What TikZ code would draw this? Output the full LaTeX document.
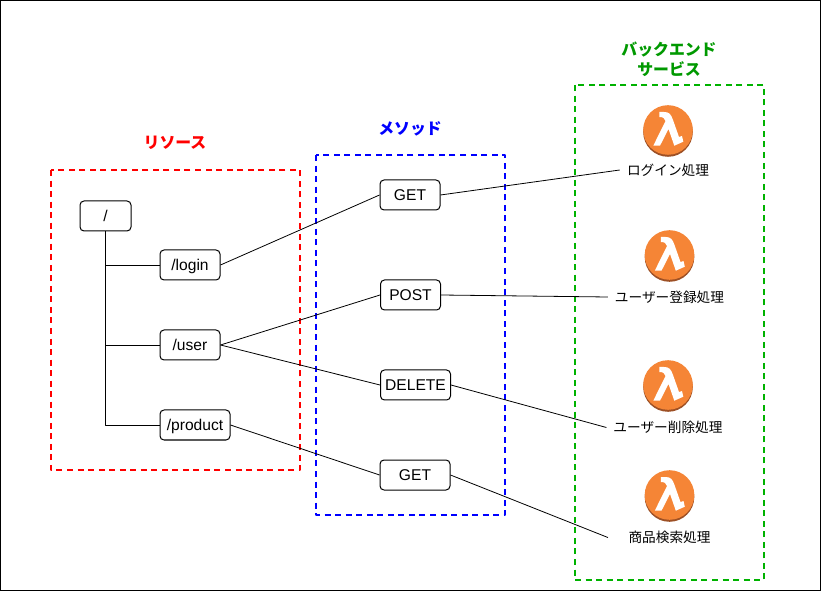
\documentclass[tikz,border=0pt]{standalone}
\usepackage{fontspec}
\setmainfont{Liberation Sans}
\newfontfamily\jp{Noto Sans CJK JP}
\definecolor{lamorange}{HTML}{F58536}
\definecolor{lamdark}{HTML}{9D5025}
\definecolor{grp}{HTML}{009900}
\begin{document}
\begin{tikzpicture}[x=0.75pt,y=-0.75pt,line join=round,
  rbox/.style={draw=black,fill=white,rounded corners=3pt,line width=0.75pt,minimum height=22.5pt,inner sep=0pt,text height=8.3pt,text depth=0pt,font=\fontsize{11.7pt}{13pt}\selectfont,anchor=center},
  wire/.style={draw=black,line width=0.6pt},
  group/.style={line width=1.5pt,dash pattern=on 4.5pt off 3.4pt},
  gtitle/.style={font=\jp\bfseries\fontsize{11.9pt}{15pt}\selectfont,align=center,inner sep=0pt},
  fn/.style={font=\jp\fontsize{10.25pt}{12pt}\selectfont,inner sep=3.5pt,text=black}]
\useasboundingbox (0,0) rectangle (821,591);
\fill[white] (0,0) rectangle (821,591);
\draw[black,line width=1.5pt] (0,0) rectangle (821,591);
% groups
\draw[group,draw=red] (51,170) rectangle (300,470);
\draw[group,draw=blue] (316,155) rectangle (505,515);
\draw[group,draw=grp!75!green] (575,85) rectangle (764,580);
\node[gtitle,text=red] (t1) at (175,143) {リソース};
\node[gtitle,text=blue] (t2) at (410,129) {メソッド};
\node[gtitle,text=grp] (t3) at (669,59) {バックエンド\\サービス};
% resources
\node[rbox,minimum width=38.25pt] (root) at (105.5,216) {/};
\node[rbox,minimum width=45pt] (login) at (190,265) {/login};
\node[rbox,minimum width=45pt] (user) at (190,345) {/user};
\node[rbox,minimum width=52.5pt] (product) at (195,425) {/product};
% methods
\node[rbox,minimum width=45pt] (get1) at (410,195) {GET};
\node[rbox,minimum width=45pt] (post) at (410.5,295) {POST};
\node[rbox,minimum width=52.5pt] (delete) at (415.5,385) {DELETE};
\node[rbox,minimum width=52.5pt] (get2) at (415,475) {GET};
% functions
\node[fn,minimum width=72pt] (f1) at (668,170) {ログイン処理};
\node[fn,minimum width=92pt] (f2) at (669.5,297) {ユーザー登録処理};
\node[fn,minimum width=92pt] (f3) at (668,427.5) {ユーザー削除処理};
\node[fn,minimum width=92pt] (f4) at (669.5,537.5) {商品検索処理};
% tree
\draw[wire] (root.south) |- (login.west);
\draw[wire] (root.south) |- (user.west);
\draw[wire] (root.south) |- (product.west);
% connectors
\draw[wire] (login.east) -- (get1.west);
\draw[wire] (user.east) -- (post.west);
\draw[wire] (user.east) -- (delete.west);
\draw[wire] (product.east) -- (get2.west);
\draw[wire] (get1.east) -- (f1.west);
\draw[wire] (post.east) -- (f2.west);
\draw[wire] (delete.east) -- (f3.west);
\draw[wire] (get2.east) -- (f4.west);
% lambda icons
\foreach \cx/\cy in {668/130,669.5/255,668/385,669.5/495}{
  \fill[lamdark] (\cx,\cy) ++(0,2) circle[radius=18.6pt];
  \fill[lamorange] (\cx,\cy) circle[radius=18.6pt];
  \fill[white] (\cx-8.7,\cy-18) -- (\cx-4,\cy-18) .. controls (\cx+1,\cy-18) and (\cx+3,\cy-16) .. (\cx+5,\cy-10)
     -- (\cx+11,\cy+7) -- (\cx+14,\cy+6) -- (\cx+15.3,\cy+11.7) -- (\cx+6.3,\cy+15.7)
     -- (\cx+0.5,\cy-1) -- (\cx-8,\cy+15.7) -- (\cx-14.7,\cy+15.7) -- (\cx-2.5,\cy-9)
     .. controls (\cx-3.5,\cy-12) and (\cx-5,\cy-13) .. (\cx-8.7,\cy-13) -- cycle;
}
\end{tikzpicture}
\end{document}
